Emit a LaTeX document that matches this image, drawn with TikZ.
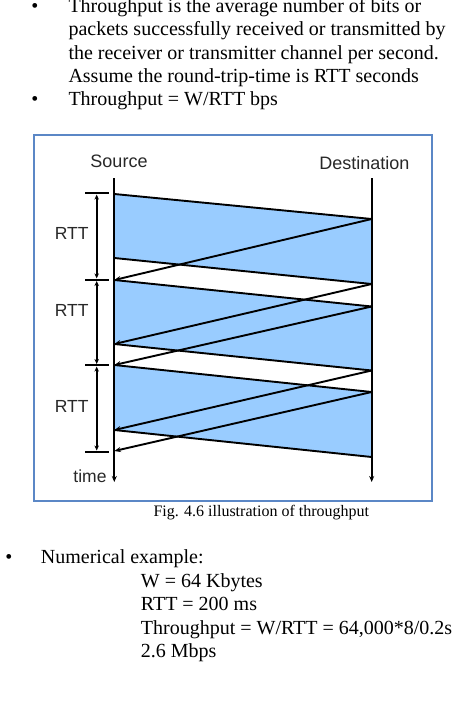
\documentclass[tikz,border=0pt]{standalone}
\usepackage{fontspec}
\setmainfont{Liberation Serif}
\newfontfamily\arialf{Liberation Sans}
\usetikzlibrary{arrows.meta}
\definecolor{fillblue}{RGB}{153,204,255}
\definecolor{frameblue}{RGB}{91,135,198}
\definecolor{labelgray}{RGB}{40,40,40}
\begin{document}
\begin{tikzpicture}[x=1pt,y=-1pt,
 body/.style={anchor=base west, inner sep=0, font=\fontsize{20}{23.3}\selectfont},
 bul/.style={anchor=base, inner sep=0, font=\fontsize{20}{23.3}\selectfont},
 capt/.style={anchor=base west, inner sep=0, font=\fontsize{16}{19}\selectfont},
 lab/.style={inner sep=0, font=\arialf\fontsize{17.5}{20}\selectfont, text=labelgray},
 ln/.style={line width=1.9pt, black},
 ack/.style={ln, -{Stealth[length=6.5pt,width=5pt]}},
 axisline/.style={line width=2pt, -{Stealth[length=6pt,width=5pt]}},
 tick/.style={line width=2.2pt},
 rttbar/.style={line width=1.9pt, {Stealth[length=5pt,width=4.5pt]}-{Stealth[length=5pt,width=4.5pt]}},
 frame/.style={draw=frameblue, line width=2.5pt}
]
\useasboundingbox (0,0) rectangle (456,710);

% ---- top text ----
\node[bul] (b1) at (35,12.3) {•};
\node[body] (t1) at (68.3,12.3) {Throughput is the average number of bits or};
\node[body] (t2) at (68.3,35.7) {packets successfully received or transmitted by};
\node[body] (t3) at (68.3,59) {the receiver or transmitter channel per second.};
\node[body] (t4) at (68.3,82.3) {Assume the round-trip-time is RTT seconds};
\node[bul] (b2) at (35,105.7) {•};
\node[body] (t5) at (68.3,105.7) {Throughput = W/RTT bps};

% ---- frame ----
\draw[frame] (34,135) rectangle (432,501);

% ---- coordinates ----
\coordinate (srcTop) at (114.3,178);
\coordinate (srcBot) at (114.3,482);
\coordinate (dstTop) at (371.7,178);
\coordinate (dstBot) at (371.7,482);

\coordinate (sA) at (114.3,194);
\coordinate (sB) at (114.3,258);
\coordinate (sC) at (114.3,280);
\coordinate (sD) at (114.3,344);
\coordinate (sE) at (114.3,365);
\coordinate (sF) at (114.3,430);
\coordinate (sG) at (114.3,451);

\coordinate (dA) at (371.7,219);
\coordinate (dB) at (371.7,284);
\coordinate (dC) at (371.7,306.5);
\coordinate (dD) at (371.7,370.5);
\coordinate (dE) at (371.7,392);
\coordinate (dF) at (371.7,457);

% ---- windows (fills) ----
\fill[fillblue] (sA) -- (dA) -- (dB) -- (sB) -- cycle;
\fill[fillblue] (sC) -- (dC) -- (dD) -- (sD) -- cycle;
\fill[fillblue] (sE) -- (dE) -- (dF) -- (sF) -- cycle;

% ---- data lines ----
\draw[ln] (sA) -- (dA);
\draw[ln] (sB) -- (dB);
\draw[ln] (sC) -- (dC);
\draw[ln] (sD) -- (dD);
\draw[ln] (sE) -- (dE);
\draw[ln] (sF) -- (dF);

% ---- acks ----
\draw[ack] (dA) -- (sC);
\draw[ack] (dB) -- (sD);
\draw[ack] (dC) -- (sE);
\draw[ack] (dD) -- (sF);
\draw[ack] (dE) -- (sG);

% ---- axes ----
\draw[axisline] (srcTop) -- (srcBot);
\draw[axisline] (dstTop) -- (dstBot);

% ---- RTT ticks and bar ----
\coordinate (k1L) at (85,193.3);   \coordinate (k1R) at (108.5,193.3);
\coordinate (k2L) at (85,279.7);   \coordinate (k2R) at (108.5,279.7);
\coordinate (k3L) at (85,365.3);   \coordinate (k3R) at (108.5,365.3);
\coordinate (k4L) at (85,451.8);   \coordinate (k4R) at (108.5,451.8);
\draw[tick] (k1L) -- (k1R);
\draw[tick] (k2L) -- (k2R);
\draw[tick] (k3L) -- (k3R);
\draw[tick] (k4L) -- (k4R);
\coordinate (r1) at (96.7,194.6);
\coordinate (r2a) at (96.7,278.4);
\coordinate (r2b) at (96.7,281);
\coordinate (r3a) at (96.7,364);
\coordinate (r3b) at (96.7,366.6);
\coordinate (r4) at (96.7,450.5);
\draw[rttbar] (r1) -- (r2a);
\draw[rttbar] (r2b) -- (r3a);
\draw[rttbar] (r3b) -- (r4);

% ---- diagram labels ----
\node[lab, font=\arialf\fontsize{18}{20}\selectfont] (src) at (119,161) {Source};
\node[lab, font=\arialf\fontsize{18}{20}\selectfont] (dst) at (364.3,163) {Destination};
\node[lab] (rtt1) at (71.7,233.3) {RTT};
\node[lab] (rtt2) at (71.7,310) {RTT};
\node[lab] (rtt3) at (71.7,406.7) {RTT};
\node[lab] (tm) at (90,476) {time};

% ---- caption ----
\node[capt] (cap) at (153.3,516.7) {Fig. 4.6 illustration of throughput};

% ---- numerical example ----
\node[bul] (b3) at (9,563.3) {•};
\node[body] (n0) at (40.7,563.3) {Numerical example:};
\node[body] (n1) at (140.7,587.3) {W = 64 Kbytes};
\node[body] (n2) at (140.7,610.7) {RTT = 200 ms};
\node[body] (n3) at (140.7,634) {Throughput = W/RTT = 64,000*8/0.2s};
\node[body] (n4) at (140.7,657.3) {2.6 Mbps};
\end{tikzpicture}
\end{document}
